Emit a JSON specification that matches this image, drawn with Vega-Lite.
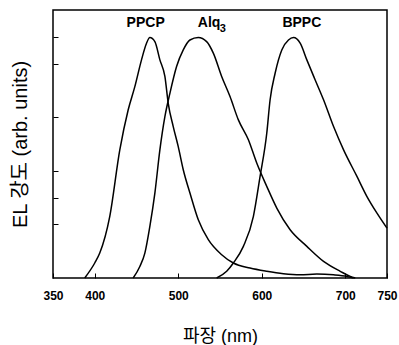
{
  "$schema": "https://vega.github.io/schema/vega-lite/v6.json",
  "width": 334,
  "height": 268,
  "autosize": "none",
  "padding": {"left": 53, "top": 10, "right": 12, "bottom": 67},
  "background": "white",
  "config": {
    "view": {"stroke": "black", "strokeWidth": 1.5},
    "font": "Liberation Sans, Noto Sans CJK KR"
  },
  "datasets": {
    "curves": [
      {"s": "PPCP", "nm": 388, "v": 0},
      {"s": "PPCP", "nm": 400, "v": 0.056},
      {"s": "PPCP", "nm": 406, "v": 0.093},
      {"s": "PPCP", "nm": 418, "v": 0.23},
      {"s": "PPCP", "nm": 430, "v": 0.478},
      {"s": "PPCP", "nm": 440, "v": 0.627},
      {"s": "PPCP", "nm": 448, "v": 0.714},
      {"s": "PPCP", "nm": 456, "v": 0.814},
      {"s": "PPCP", "nm": 462, "v": 0.876},
      {"s": "PPCP", "nm": 466, "v": 0.897},
      {"s": "PPCP", "nm": 472, "v": 0.882},
      {"s": "PPCP", "nm": 478, "v": 0.814},
      {"s": "PPCP", "nm": 484, "v": 0.752},
      {"s": "PPCP", "nm": 488, "v": 0.652},
      {"s": "PPCP", "nm": 494, "v": 0.565},
      {"s": "PPCP", "nm": 500, "v": 0.49},
      {"s": "PPCP", "nm": 506, "v": 0.404},
      {"s": "PPCP", "nm": 514, "v": 0.317},
      {"s": "PPCP", "nm": 524, "v": 0.217},
      {"s": "PPCP", "nm": 536, "v": 0.143},
      {"s": "PPCP", "nm": 552, "v": 0.087},
      {"s": "PPCP", "nm": 566, "v": 0.056},
      {"s": "PPCP", "nm": 586, "v": 0.037},
      {"s": "PPCP", "nm": 606, "v": 0.025},
      {"s": "PPCP", "nm": 626, "v": 0.016},
      {"s": "PPCP", "nm": 646, "v": 0.012},
      {"s": "PPCP", "nm": 666, "v": 0.015},
      {"s": "PPCP", "nm": 686, "v": 0.012},
      {"s": "PPCP", "nm": 702, "v": 0.006},
      {"s": "PPCP", "nm": 710, "v": 0},
      {"s": "Alq3", "nm": 446, "v": 0},
      {"s": "Alq3", "nm": 454, "v": 0.043},
      {"s": "Alq3", "nm": 460, "v": 0.093},
      {"s": "Alq3", "nm": 466, "v": 0.193},
      {"s": "Alq3", "nm": 472, "v": 0.317},
      {"s": "Alq3", "nm": 478, "v": 0.478},
      {"s": "Alq3", "nm": 484, "v": 0.602},
      {"s": "Alq3", "nm": 490, "v": 0.689},
      {"s": "Alq3", "nm": 498, "v": 0.789},
      {"s": "Alq3", "nm": 506, "v": 0.851},
      {"s": "Alq3", "nm": 514, "v": 0.888},
      {"s": "Alq3", "nm": 524, "v": 0.897},
      {"s": "Alq3", "nm": 534, "v": 0.882},
      {"s": "Alq3", "nm": 542, "v": 0.839},
      {"s": "Alq3", "nm": 552, "v": 0.752},
      {"s": "Alq3", "nm": 562, "v": 0.677},
      {"s": "Alq3", "nm": 572, "v": 0.59},
      {"s": "Alq3", "nm": 584, "v": 0.516},
      {"s": "Alq3", "nm": 594, "v": 0.429},
      {"s": "Alq3", "nm": 606, "v": 0.342},
      {"s": "Alq3", "nm": 618, "v": 0.261},
      {"s": "Alq3", "nm": 634, "v": 0.18},
      {"s": "Alq3", "nm": 654, "v": 0.118},
      {"s": "Alq3", "nm": 674, "v": 0.062},
      {"s": "Alq3", "nm": 694, "v": 0.025},
      {"s": "Alq3", "nm": 706, "v": 0.006},
      {"s": "Alq3", "nm": 712, "v": 0},
      {"s": "BPPC", "nm": 546, "v": 0},
      {"s": "BPPC", "nm": 558, "v": 0.025},
      {"s": "BPPC", "nm": 566, "v": 0.056},
      {"s": "BPPC", "nm": 578, "v": 0.118},
      {"s": "BPPC", "nm": 590, "v": 0.23},
      {"s": "BPPC", "nm": 598, "v": 0.379},
      {"s": "BPPC", "nm": 606, "v": 0.54},
      {"s": "BPPC", "nm": 610, "v": 0.665},
      {"s": "BPPC", "nm": 616, "v": 0.764},
      {"s": "BPPC", "nm": 624, "v": 0.851},
      {"s": "BPPC", "nm": 632, "v": 0.888},
      {"s": "BPPC", "nm": 638, "v": 0.897},
      {"s": "BPPC", "nm": 646, "v": 0.876},
      {"s": "BPPC", "nm": 654, "v": 0.814},
      {"s": "BPPC", "nm": 664, "v": 0.739},
      {"s": "BPPC", "nm": 674, "v": 0.665},
      {"s": "BPPC", "nm": 686, "v": 0.565},
      {"s": "BPPC", "nm": 698, "v": 0.478},
      {"s": "BPPC", "nm": 714, "v": 0.379},
      {"s": "BPPC", "nm": 726, "v": 0.304},
      {"s": "BPPC", "nm": 738, "v": 0.242},
      {"s": "BPPC", "nm": 750, "v": 0.186}
    ],
    "labels": [
      {"label": "PPCP", "nm": 461, "v": 0.95},
      {"label": "Alq", "nm": 537, "v": 0.95},
      {"label": "BPPC", "nm": 648, "v": 0.95}
    ],
    "subs": [
      {"label": "3", "nm": 553.5, "v": 0.93}
    ]
  },
  "layer": [
    {
      "data": {"name": "curves"},
      "mark": {"type": "line", "strokeWidth": 1.5, "interpolate": "monotone"},
      "encoding": {
        "x": {
          "field": "nm", "type": "quantitative",
          "scale": {"domain": [350, 750], "nice": false, "zero": false},
          "axis": {
            "title": "파장 (nm)",
            "values": [350, 400, 500, 600, 700, 750],
            "grid": false,
            "domain": false,
            "tickSize": -5,
            "tickColor": "black",
            "labelPadding": 17,
            "labelFontSize": 12,
            "labelFontWeight": "bold",
            "labelColor": "black",
            "labelFlush": false,
            "titleFontSize": 18,
            "titleFontWeight": "normal",
            "titleColor": "black",
            "titlePadding": 26
          }
        },
        "y": {
          "field": "v", "type": "quantitative",
          "scale": {"domain": [0, 1], "nice": false},
          "axis": {
            "title": "EL 강도 (arb. units)",
            "values": [0.2, 0.3, 0.4, 0.6, 0.8, 0.9],
            "labels": false,
            "grid": false,
            "domain": false,
            "tickSize": -5,
            "tickColor": "black",
            "titleFontSize": 20,
            "titleFontWeight": "normal",
            "titleColor": "black",
            "titlePadding": 22
          }
        },
        "detail": {"field": "s"},
        "color": {"value": "black"}
      }
    },
    {
      "data": {"name": "labels"},
      "mark": {"type": "text", "fontSize": 14, "fontWeight": "bold", "color": "black"},
      "encoding": {
        "x": {"field": "nm", "type": "quantitative"},
        "y": {"field": "v", "type": "quantitative"},
        "text": {"field": "label"}
      }
    },
    {
      "data": {"name": "subs"},
      "mark": {"type": "text", "fontSize": 11, "fontWeight": "bold", "color": "black"},
      "encoding": {
        "x": {"field": "nm", "type": "quantitative"},
        "y": {"field": "v", "type": "quantitative"},
        "text": {"field": "label"}
      }
    }
  ]
}
